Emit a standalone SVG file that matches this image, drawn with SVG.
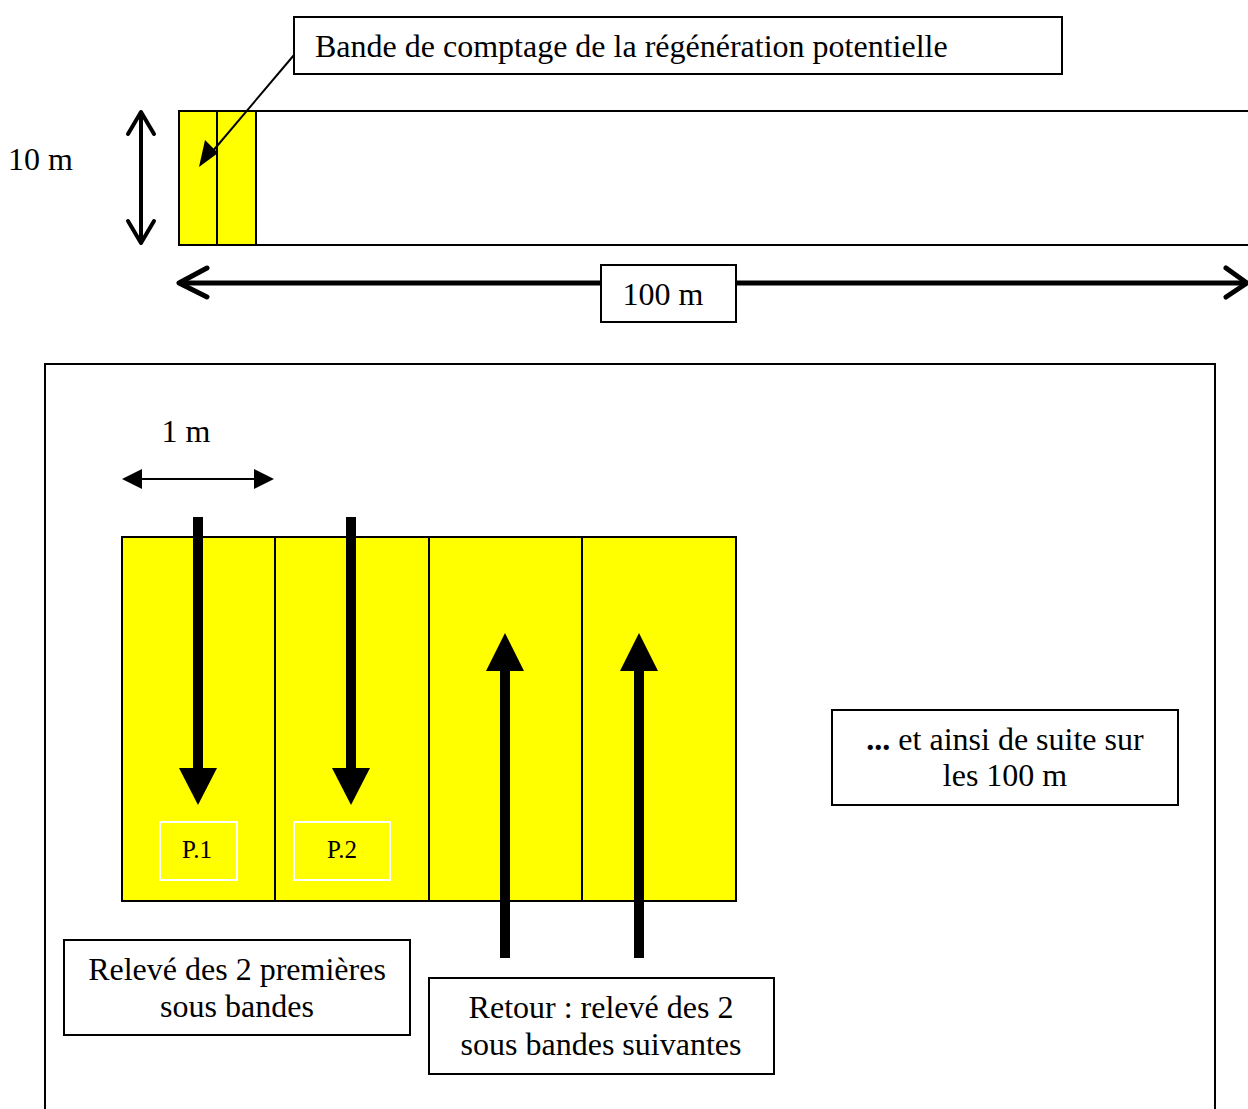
<svg xmlns="http://www.w3.org/2000/svg" width="1248" height="1109" viewBox="0 0 1248 1109">
<style>
text{font-family:"Liberation Serif","Times New Roman",serif;fill:#000}
.t27{font-size:32px}
.box{fill:#fff;stroke:#000;stroke-width:2}
.yel{fill:#ffff00;stroke:#000;stroke-width:2}
.pbox{fill:none;stroke:#fff;stroke-width:2}
</style>
<rect width="1248" height="1109" fill="#fff"/>

<g id="strip-top">
<path d="M1250,111 H179 V245 H1250" fill="none" stroke="#000" stroke-width="2"/>
<rect class="yel" x="179" y="111" width="77" height="134"/>
<line x1="217" y1="111" x2="217" y2="245" stroke="#000" stroke-width="2"/>
</g>

<g id="label-bande">
<rect class="box" x="294" y="17" width="768" height="57"/>
<text class="t27" x="315" y="57">Bande de comptage de la régénération potentielle</text>
</g>

<g id="label-10m"><text class="t27" x="8" y="170">10 m</text></g>

<g id="label-100m">
<rect class="box" x="601" y="265" width="135" height="57"/>
<text class="t27" x="663" y="305" text-anchor="middle">100 m</text>
</g>

<g id="frame"><path d="M45,1112 V364 H1215 V1112" fill="none" stroke="#000" stroke-width="2"/></g>

<g id="label-1m"><text class="t27" x="186" y="442" text-anchor="middle">1 m</text></g>

<g id="subbands">
<rect class="yel" x="122" y="537" width="614" height="364"/>
<line x1="275" y1="537" x2="275" y2="901" stroke="#000" stroke-width="2"/>
<line x1="429" y1="537" x2="429" y2="901" stroke="#000" stroke-width="2"/>
<line x1="582" y1="537" x2="582" y2="901" stroke="#000" stroke-width="2"/>
</g>

<g id="p1"><rect class="pbox" x="160" y="822" width="77" height="58"/><text x="197" y="858" font-size="25" text-anchor="middle">P.1</text></g>
<g id="p2"><rect class="pbox" x="294" y="822" width="96" height="58"/><text x="342" y="858" font-size="25" text-anchor="middle">P.2</text></g>

<g id="label-suite">
<rect class="box" x="832" y="710" width="346" height="95"/>
<text class="t27" x="1005" y="750" text-anchor="middle"><tspan font-weight="bold">...</tspan> et ainsi de suite sur</text>
<text class="t27" x="1005" y="786" text-anchor="middle">les 100 m</text>
</g>

<g id="label-releve">
<rect class="box" x="64" y="940" width="346" height="95"/>
<text class="t27" x="237" y="980" text-anchor="middle">Relevé des 2 premières</text>
<text class="t27" x="237" y="1017" text-anchor="middle">sous bandes</text>
</g>

<g id="label-retour">
<rect class="box" x="429" y="978" width="345" height="96"/>
<text class="t27" x="601" y="1018" text-anchor="middle">Retour : relevé des 2</text>
<text class="t27" x="601" y="1055" text-anchor="middle">sous bandes suivantes</text>
</g>

<g id="connectors" fill="#000" stroke="#000">
<line x1="294" y1="55" x2="212" y2="152" stroke-width="2"/>
<polygon points="199,167 205,140 218,153" stroke="none"/>
<line x1="141" y1="112" x2="141" y2="242" stroke-width="4"/>
<polyline points="128,134 141,112 154,134" fill="none" stroke-width="4" stroke-linecap="round" stroke-linejoin="round"/>
<polyline points="128,221 141,243 154,221" fill="none" stroke-width="4" stroke-linecap="round" stroke-linejoin="round"/>
<line x1="180" y1="283" x2="601" y2="283" stroke-width="5"/>
<line x1="736" y1="283" x2="1246" y2="283" stroke-width="5"/>
<polyline points="207,268 179,283 207,297" fill="none" stroke-width="5" stroke-linecap="round" stroke-linejoin="round"/>
<polyline points="1226,268 1247,283 1226,297" fill="none" stroke-width="5" stroke-linecap="round" stroke-linejoin="round"/>
<line x1="140" y1="479" x2="256" y2="479" stroke-width="2"/>
<polygon points="122,479 142,469 142,489" stroke="none"/>
<polygon points="274,479 254,469 254,489" stroke="none"/>
<rect x="193" y="517" width="10" height="252" stroke="none"/>
<polygon points="179,768 217,768 198,805" stroke="none"/>
<rect x="346" y="517" width="10" height="252" stroke="none"/>
<polygon points="332,768 370,768 351,805" stroke="none"/>
<rect x="500" y="670" width="10" height="288" stroke="none"/>
<polygon points="486,671 524,671 505,633" stroke="none"/>
<rect x="634" y="670" width="10" height="288" stroke="none"/>
<polygon points="620,671 658,671 639,633" stroke="none"/>
</g>
</svg>
